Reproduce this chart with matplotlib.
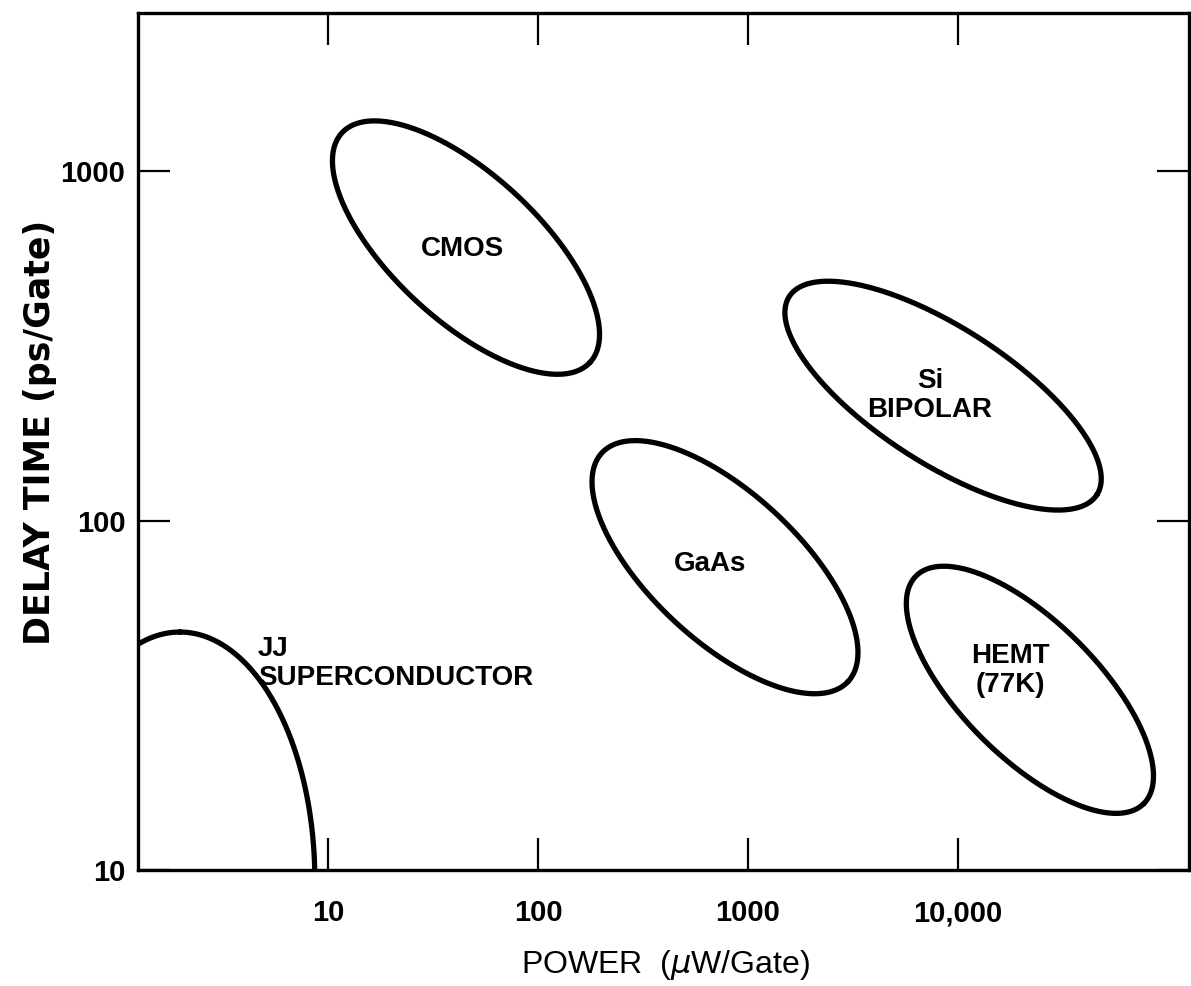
import numpy as np
import matplotlib
matplotlib.use("Agg")
import matplotlib.pyplot as plt
from matplotlib.ticker import NullLocator

plt.rcParams['font.family'] = ['Liberation Sans', 'DejaVu Sans']

# Technology regions (power in uW/gate, delay in ps/gate)
regions = ["CMOS", "Si\nBIPOLAR", "GaAs", "HEMT\n(77K)", "JJ"]
power_center = [45.4, 8490, 777, 22000, 1.97]
delay_center = [605, 228, 73.6, 32.8, 9.36]
# ellipse shape (half axes in px, tilt in degrees)
half_long = [169, 183, 168, 161, 248]
half_short = [73, 68, 74, 68, 135]
tilt = [-42.8, -32.8, -42.9, -45.0, 90.0]

# label anchors
label_text = ["CMOS", "Si\nBIPOLAR", "GaAs", "HEMT\n(77K)", "JJ\nSUPERCONDUCTOR"]
label_power = [43.5, 7360, 659, 17700, 4.64]
label_delay = [601, 228, 75.3, 37.2, 38.9]

xticks = [10, 100, 1000, 10000]
xticklabels = ["10", "100", "1000", "10,000"]
yticks = [10, 100, 1000]
yticklabels = ["10", "100", "1000"]
xlim = (1.245, 125900)
ylim = (10, 2840)

W, H = 1191, 986
fig = plt.figure(figsize=(W / 100, H / 100), dpi=100)
left, right, top, bottom = 138, 1189, 13, 870
ax = fig.add_axes([left / W, 1 - bottom / H, (right - left) / W, (bottom - top) / H])
ax.set_xscale('log')
ax.set_yscale('log')
ax.set_xlim(*xlim)
ax.set_ylim(*ylim)

# size of one decade in display pixels
sx = (right - left) / np.log10(xlim[1] / xlim[0])
sy = (bottom - top) / np.log10(ylim[1] / ylim[0])

t = np.linspace(0, 2 * np.pi, 500)
for pc, dc, a, b, ang in zip(power_center, delay_center, half_long, half_short, tilt):
    phi = np.radians(ang)
    du = a * np.cos(t) * np.cos(phi) - b * np.sin(t) * np.sin(phi)
    dv = a * np.cos(t) * np.sin(phi) + b * np.sin(t) * np.cos(phi)
    ax.plot(pc * 10 ** (du / sx), dc * 10 ** (dv / sy), color='black', lw=3.8,
            solid_capstyle='round')

for i, txt in enumerate(label_text):
    ha = 'left' if txt.startswith("JJ") else 'center'
    ax.text(label_power[i], label_delay[i], txt, ha=ha, va='center',
            fontsize=20, fontweight='bold', linespacing=1.15)

ax.set_xticks(xticks)
ax.set_xticklabels(xticklabels)
ax.set_yticks(yticks)
ax.set_yticklabels(yticklabels)
ax.xaxis.set_minor_locator(NullLocator())
ax.yaxis.set_minor_locator(NullLocator())
ax.tick_params(which='major', direction='in', length=23, width=1.6,
               top=True, right=True, labelsize=21)
ax.tick_params(axis='x', pad=21)
ax.tick_params(axis='y', pad=9)
for lab in ax.get_xticklabels() + ax.get_yticklabels():
    lab.set_fontweight('bold')
for sp in ax.spines.values():
    sp.set_linewidth(2.4)

fig.text(40 / W, 1 - 432 / H, "DELAY TIME (ps/Gate)", rotation=90, ha='center',
         va='center', fontsize=25, fontweight='bold', family='DejaVu Sans')
fig.text(665 / W, 1 - 965 / H, r"POWER  ($\mu$W/Gate)", ha='center', va='center',
         fontsize=23)

fig.savefig("out.png", dpi=100, facecolor='white')
